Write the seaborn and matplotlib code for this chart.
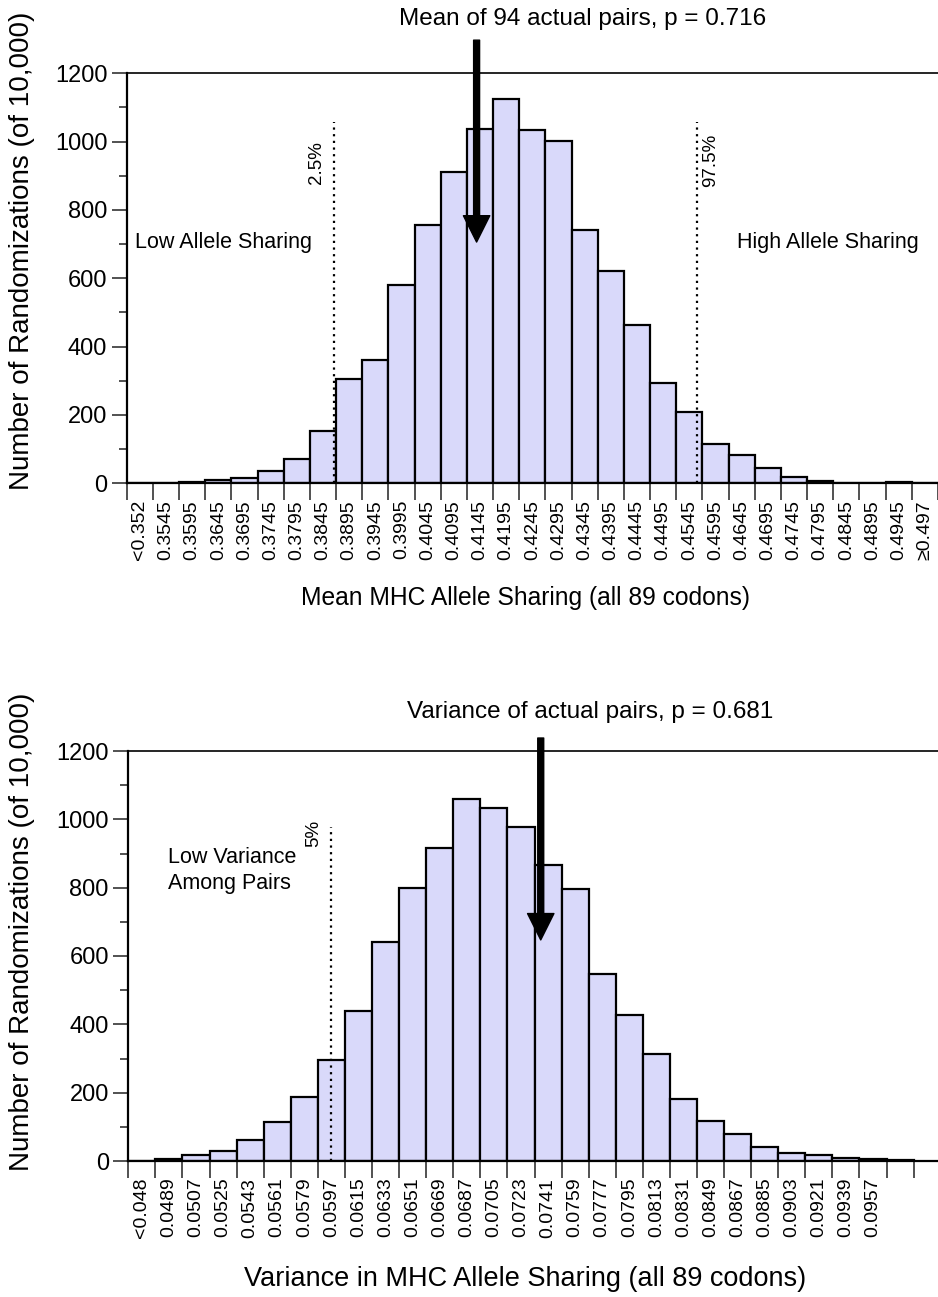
import matplotlib
matplotlib.use("Agg")
import matplotlib.pyplot as plt
import seaborn as sns
import pandas as pd
import numpy as np
from matplotlib import font_manager

sns.set_theme(style="white")
fams = {f.name for f in font_manager.fontManager.ttflist}
main_font = "Liberation Sans" if "Liberation Sans" in fams else "DejaVu Sans"
plt.rcParams['font.family'] = [main_font, 'DejaVu Sans']
plt.rcParams['text.color'] = 'black'
plt.rcParams['axes.labelcolor'] = 'black'
plt.rcParams['xtick.labelcolor'] = 'black'
plt.rcParams['ytick.labelcolor'] = 'black'

# ---------------- data ----------------
mean_labels = ["<0.352", "0.3545", "0.3595", "0.3645", "0.3695", "0.3745", "0.3795",
               "0.3845", "0.3895", "0.3945", "0.3995", "0.4045", "0.4095", "0.4145",
               "0.4195", "0.4245", "0.4295", "0.4345", "0.4395", "0.4445", "0.4495",
               "0.4545", "0.4595", "0.4645", "0.4695", "0.4745", "0.4795", "0.4845",
               "0.4895", "0.4945", "\u22650.497"]
mean_counts = [0, 0, 4, 9, 15, 37, 72, 152, 306, 362, 580, 755, 910, 1036,
               1124, 1033, 1001, 740, 620, 462, 293, 208, 115, 82, 45, 18,
               6, 2, 2, 3, 0]

var_labels = ["<0.048", "0.0489", "0.0507", "0.0525", "0.0543", "0.0561", "0.0579",
              "0.0597", "0.0615", "0.0633", "0.0651", "0.0669", "0.0687", "0.0705",
              "0.0723", "0.0741", "0.0759", "0.0777", "0.0795", "0.0813", "0.0831",
              "0.0849", "0.0867", "0.0885", "0.0903", "0.0921", "0.0939", "0.0957", " "]
var_counts = [0, 5, 17, 30, 62, 113, 187, 295, 438, 642, 800, 917, 1060, 1032,
              978, 867, 795, 546, 426, 312, 181, 116, 80, 42, 24, 17, 8, 5, 2]

bar_color = "#D9D9FA"

fig = plt.figure(figsize=(9.38, 12.97), dpi=100)
W, H = 938.0, 1297.0

def make_axes(x0px, y_top, y_zero):
    left = x0px / W
    width = (W - x0px) / W
    bottom = 1 - y_zero / H
    height = (y_zero - y_top) / H
    return fig.add_axes([left, bottom, width, height])

def style(ax, labels, counts, xlim_right, ylab_x, ylab_y):
    df = pd.DataFrame({"label": labels, "count": counts})
    sns.barplot(data=df, x="label", y="count", order=labels, color=bar_color,
                saturation=1, width=1.0, edgecolor="black", linewidth=1.6, ax=ax,
                zorder=2)
    n = len(labels)
    ax.set_xlim(-0.5, xlim_right)
    ax.set_ylim(0, 1200)
    ax.set_ylabel("Number of Randomizations (of 10,000)", fontsize=20)
    ax.yaxis.set_label_coords(ylab_x, ylab_y)
    ax.yaxis.label.set_va("center")
    ax.set_xticks(range(n))
    ax.set_xticklabels(labels, rotation=90, fontsize=14)
    ax.tick_params(axis="x", which="major", length=0, pad=12)
    ax.set_xticks(np.arange(-0.5, n - 0.4, 1.0), minor=True)
    ax.tick_params(axis="x", which="minor", length=12, width=1.2, color="#333333",
                   direction="out", bottom=True)
    ax.set_yticks(range(0, 1201, 200))
    ax.set_yticks(range(0, 1201, 100), minor=True)
    ax.tick_params(axis="y", which="major", length=11, width=1.2, labelsize=17,
                   color="#333333", left=True, direction="out", pad=3)
    ax.tick_params(axis="y", which="minor", length=6, width=1.2,
                   color="#333333", left=True, direction="out")
    ax.spines["right"].set_visible(False)
    ax.spines["left"].set_linewidth(1.6)
    ax.spines["bottom"].set_linewidth(1.6)
    ax.spines["top"].set_linewidth(1.2)
    for s in ["left", "bottom", "top"]:
        ax.spines[s].set_color("black")
    ax.grid(False)
    ax.set_facecolor("white")

def arrow(ax, x, y_from, y_to):
    ax.annotate("", xy=(x, y_to), xytext=(x, y_from), xycoords="data",
                arrowprops=dict(width=4.3, headwidth=19, headlength=19, shrink=0,
                                facecolor="black", edgecolor="black"),
                annotation_clip=False, zorder=5)

# ---------------- top chart ----------------
ax1 = make_axes(126.7, 73.3, 483.3)
style(ax1, mean_labels, mean_counts, 30.45, -0.129, 0.567)
ax1.set_xlabel("Mean MHC Allele Sharing (all 89 codons)", fontsize=17.7)
ax1.xaxis.set_label_coords(0.491, -0.2798)
ax1.xaxis.label.set_va("center")
ax1.vlines([7.42], 0, 1056, colors="black", linestyles=(0, (1, 2)), lw=1.6, zorder=4)
ax1.vlines([21.28], 0, 1058, colors="black", linestyles=(0, (1, 2)), lw=1.6, zorder=4)
ax1.text(6.76, 940, "2.5%", rotation=90, ha="center", va="center", fontsize=13.5)
ax1.text(21.82, 946, "97.5%", rotation=90, ha="center", va="center", fontsize=13.5)
ax1.text(-0.18, 706, "Low Allele Sharing", ha="left", va="center", fontsize=15.5)
ax1.text(29.77, 706, "High Allele Sharing", ha="right", va="center", fontsize=15.5)
arrow(ax1, 12.87, 1297, 706)
fig.text(583 / W, 1 - 19 / H, "Mean of 94 actual pairs, p = 0.716", ha="center",
         va="center", fontsize=17.5)

# ---------------- bottom chart ----------------
ax2 = make_axes(128.3, 751, 1161)
style(ax2, var_labels, var_counts, 29.4, -0.131, 0.559)
ax2.set_xlabel("Variance in MHC Allele Sharing (all 89 codons)", fontsize=19.5)
ax2.xaxis.set_label_coords(0.49, -0.2878)
ax2.xaxis.label.set_va("center")
ax2.vlines([6.97], 0, 978, colors="black", linestyles=(0, (1, 2)), lw=1.6, zorder=4)
ax2.text(6.35, 958, "5%", rotation=90, ha="center", va="center", fontsize=13.5)
ax2.text(0.97, 850, "Low Variance\nAmong Pairs", ha="left", va="center", fontsize=15.5,
         linespacing=1.3)
arrow(ax2, 14.73, 1238, 647)
fig.text(590 / W, 1 - 712 / H, "Variance of actual pairs, p = 0.681", ha="center",
         va="center", fontsize=17.5)

fig.savefig("out.png", dpi=100, facecolor="white")
